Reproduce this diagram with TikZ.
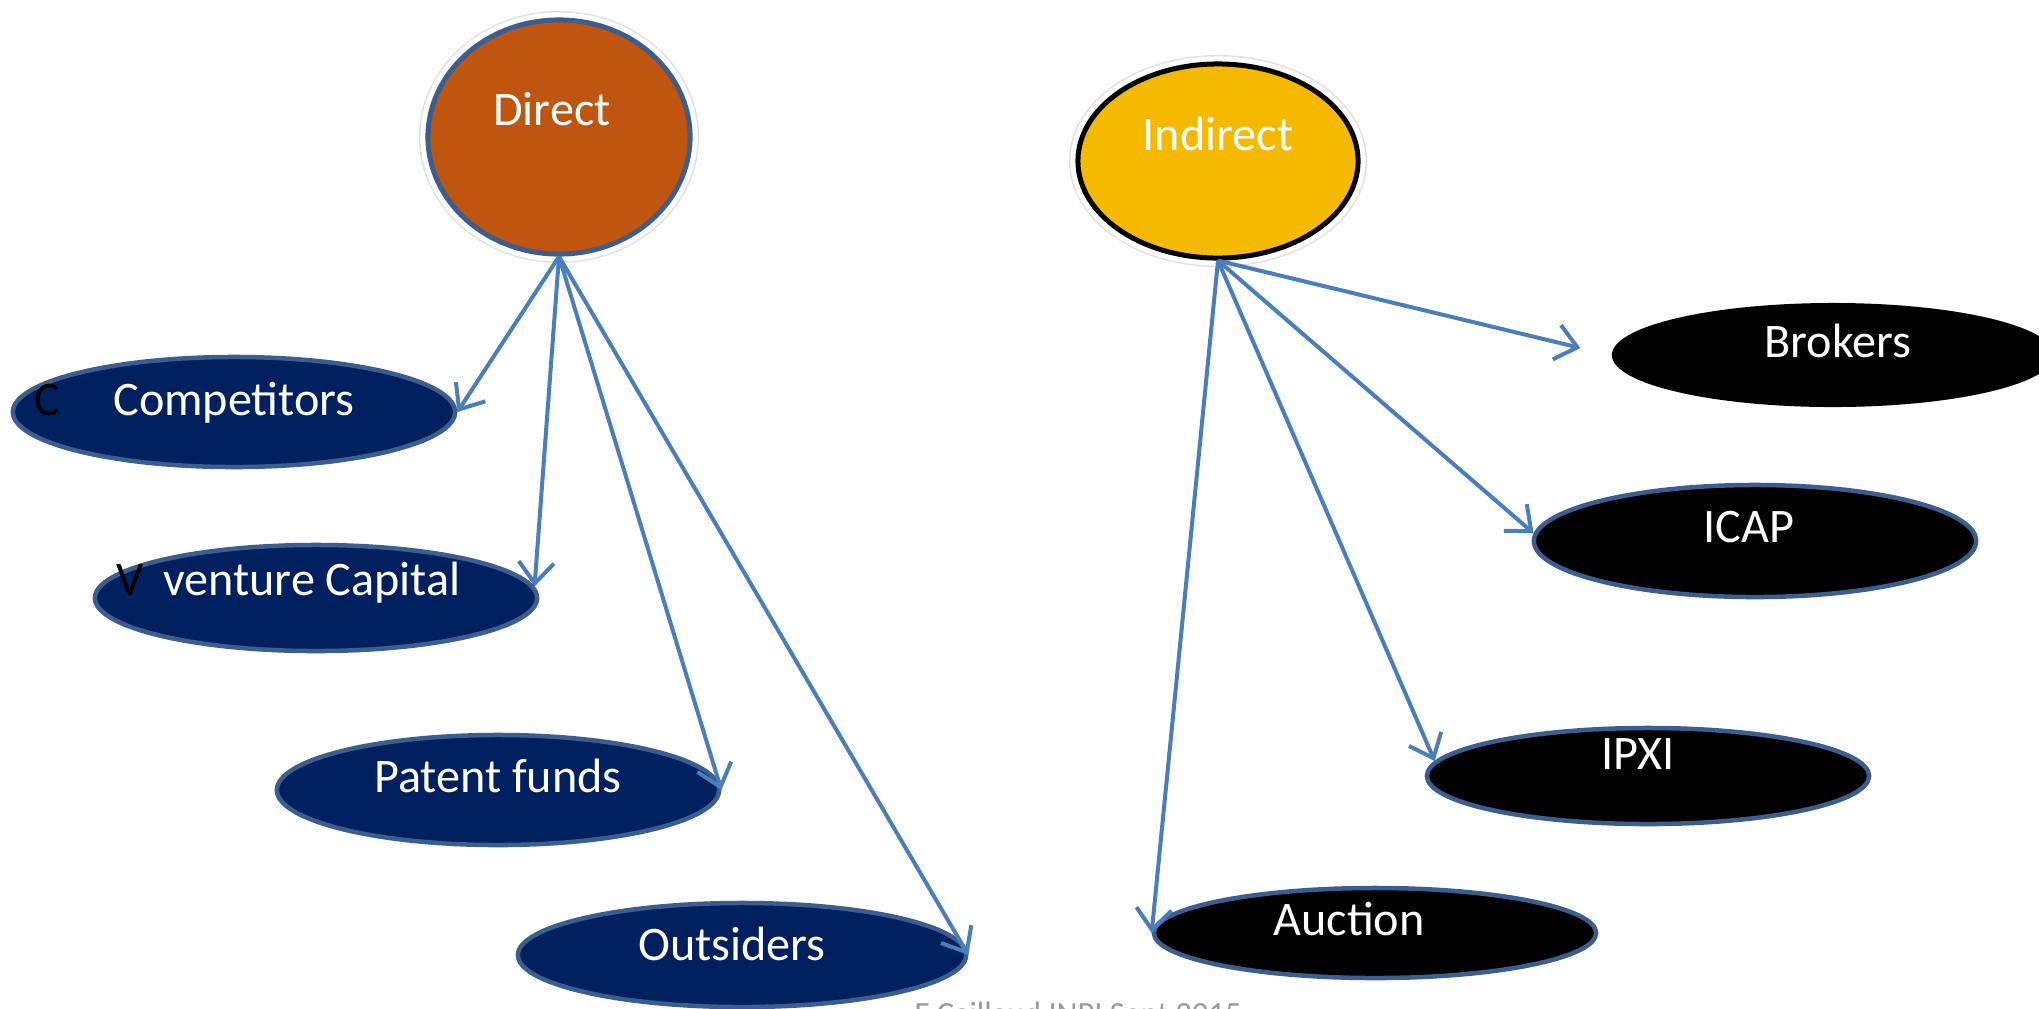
\documentclass[tikz,border=0pt]{standalone}
\usepackage{fontspec}
\setmainfont{Carlito}
\usetikzlibrary{shapes.geometric, arrows.meta}
\definecolor{navyfill}{HTML}{002060}
\definecolor{navyline}{HTML}{3B5E8F}
\definecolor{rustfill}{HTML}{C0550F}
\definecolor{goldfill}{HTML}{F5BA00}
\definecolor{arrowblue}{HTML}{4A7EBB}
\tikzset{
  hub/.style={ellipse, line width=0.05cm,
    preaction={draw=black!12, line width=0.18cm},
    preaction={draw=white, line width=0.15cm}},
  buyer/.style={ellipse, fill=navyfill, draw=navyline, line width=0.045cm,
    minimum width=4.42cm, minimum height=1.08cm},
  market/.style={ellipse, fill=black, draw=navyline, line width=0.045cm,
    minimum width=4.42cm, minimum height=0.96cm},
  lbl/.style={text=white, inner sep=0pt, text height=0.30cm, text depth=0cm,
    font=\fontsize{13.7}{16}\selectfont},
  footer/.style={text=black!40, inner sep=0pt, font=\fontsize{9.2}{11}\selectfont},
  link/.style={draw=arrowblue, line width=0.04cm,
    -{Straight Barb[length=6pt, width=10pt, line width=0.04cm]}}
}
\begin{document}
\begin{tikzpicture}[x=0.01cm, y=-0.01cm]
  \useasboundingbox (0,0) rectangle (2039,1008);
  \clip (0,0) rectangle (2039,1008);

  % deux centres
  \node[hub, fill=rustfill, draw=navyline, minimum width=2.62cm, minimum height=2.34cm,
    label={[lbl, xshift=-0.07cm, yshift=0.27cm]center:Direct}] (direct) at (559,137) {};
  \node[hub, fill=goldfill, draw=black, minimum width=2.80cm, minimum height=1.94cm,
    label={[lbl, yshift=0.26cm]center:Indirect}] (indirect) at (1218,161) {};

  % acheteurs directs
  \node[buyer, minimum height=1.10cm,
    label={[lbl, yshift=0.12cm]center:Competitors},
    label={[lbl, text=black, xshift=-1.87cm, yshift=0.12cm]center:C}] (comp) at (234,412) {};
  \node[buyer, minimum height=1.06cm,
    label={[lbl, xshift=-0.04cm, yshift=0.18cm]center:venture Capital},
    label={[lbl, text=black, xshift=-1.86cm, yshift=0.18cm]center:V}] (vc) at (316,598) {};
  \node[buyer, minimum height=1.10cm,
    label={[lbl, yshift=0.13cm]center:Patent funds}] (funds) at (498,790) {};
  \node[buyer, minimum width=4.48cm, minimum height=1.04cm,
    label={[lbl, xshift=-0.10cm, yshift=0.10cm]center:Outsiders}] (outs) at (742,955) {};

  % intermediaires
  \node[market, draw=none, minimum height=1.04cm,
    label={[lbl, xshift=0.05cm, yshift=0.13cm]center:Brokers}] (brokers) at (1833,355) {};
  \node[market, minimum height=1.12cm,
    label={[lbl, xshift=-0.06cm, yshift=0.14cm]center:ICAP}] (icap) at (1755,541) {};
  \node[market,
    label={[lbl, xshift=-0.10cm, yshift=0.22cm]center:IPXI}] (ipxi) at (1648,776) {};
  \node[market, minimum height=0.90cm,
    label={[lbl, xshift=-0.26cm, yshift=0.13cm]center:Auction}] (auction) at (1375,933) {};

  % fleches
  \draw[link] (direct.south) -- (comp.east);
  \draw[link] (direct.south) -- (vc.3);
  \draw[link] (direct.south) -- (funds.east);
  \draw[link] (direct.south) -- (outs.east);

  \draw[link, shorten >=0.30cm] (indirect.south) -- (brokers.west);
  \draw[link] (indirect.south) -- (icap.178);
  \draw[link] (indirect.south) -- (ipxi.176);
  \draw[link] (indirect.south) -- (auction.west);

  % pied de page
  \node[footer, anchor=north] (credit) at (1078,1001) {F Caillaud INPI Sept 2015};
\end{tikzpicture}
\end{document}
